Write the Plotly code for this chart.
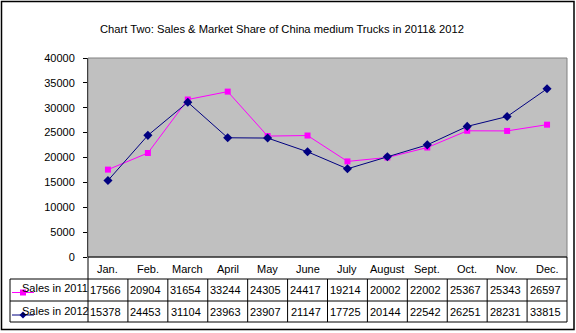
import plotly.graph_objects as go

months = ["Jan.", "Feb.", "March", "April", "May", "June", "July", "August", "Sept.", "Oct.", "Nov.", "Dec."]
sales_2011 = [17566, 20904, 31654, 33244, 24305, 24417, 19214, 20002, 22002, 25367, 25343, 26597]
sales_2012 = [15378, 24453, 31104, 23963, 23907, 21147, 17725, 20144, 22542, 26251, 28231, 33815]
series_names = ["Sales in 2011", "Sales in 2012"]
y_ticks = [0, 5000, 10000, 15000, 20000, 25000, 30000, 35000, 40000]
title = "Chart Two: Sales & Market Share of China medium Trucks in 2011& 2012"

W, H = 576, 333
PL, PR, PT, PB = 88, 567, 58, 257  # plot area in pixels

def px(x):
    return (x - PL) / (PR - PL)

def py(y):
    return (PB - y) / (PB - PT)

FONT = "Liberation Sans, Arial, sans-serif"
C11 = "#FF00FF"
C12 = "#000080"

fig = go.Figure()
fig.add_trace(go.Scatter(x=months, y=sales_2011, mode="lines+markers", name=series_names[0],
                         line=dict(color=C11, width=1), marker=dict(symbol="square", size=6, color=C11)))
fig.add_trace(go.Scatter(x=months, y=sales_2012, mode="lines+markers", name=series_names[1],
                         line=dict(color=C12, width=1), marker=dict(symbol="diamond", size=7, color=C12)))

shapes = []
line = dict(color="black", width=1)
# outer border
shapes.append(dict(type="rect", xref="paper", yref="paper", x0=px(1.5), x1=px(574), y0=py(1.5), y1=py(329.5),
                   line=dict(color="black", width=1.5), layer="below"))
# plot area border
shapes.append(dict(type="rect", xref="paper", yref="paper", x0=0, x1=1, y0=0, y1=1,
                   line=dict(color="#808080", width=1), layer="above"))
shapes.append(dict(type="line", xref="paper", yref="paper", x0=0, x1=1, y0=0, y1=0, line=line))
# table lines
rows = [279, 301, 322]
for r in rows:
    shapes.append(dict(type="line", xref="paper", yref="paper", x0=px(10), x1=1, y0=py(r), y1=py(r), line=line))
shapes.append(dict(type="line", xref="paper", yref="paper", x0=px(10), x1=px(10), y0=py(279), y1=py(322), line=line))
shapes.append(dict(type="line", xref="paper", yref="paper", x0=0, x1=0, y0=0, y1=py(322), line=line))
shapes.append(dict(type="line", xref="paper", yref="paper", x0=1, x1=1, y0=0, y1=py(322), line=line))
colw = (PR - PL) / len(months)
for i in range(1, len(months)):
    xx = px(PL + colw * i)
    shapes.append(dict(type="line", xref="paper", yref="paper", x0=xx, x1=xx, y0=py(279), y1=py(322), line=line))

annotations = []
annotations.append(dict(text=title, xref="paper", yref="paper", x=px(282), y=py(29), showarrow=False,
                        font=dict(family=FONT, size=11.2, color="black"),
                        xanchor="center", yanchor="middle"))
tf = dict(family=FONT, size=11, color="black")
for i, m in enumerate(months):
    annotations.append(dict(text=m, xref="x", yref="paper", x=m, y=py(268.5), showarrow=False, font=tf,
                            xanchor="center", yanchor="middle"))
    annotations.append(dict(text=str(sales_2011[i]), xref="x", yref="paper", x=m, y=py(290), showarrow=False,
                            font=tf, xanchor="center", yanchor="middle", xshift=-2))
    annotations.append(dict(text=str(sales_2012[i]), xref="x", yref="paper", x=m, y=py(311.5), showarrow=False,
                            font=tf, xanchor="center", yanchor="middle", xshift=-2))
annotations.append(dict(text=series_names[0], xref="paper", yref="paper", x=px(20), y=py(287.5), showarrow=False,
                        font=tf, xanchor="left", yanchor="middle"))
annotations.append(dict(text=series_names[1], xref="paper", yref="paper", x=px(20), y=py(310.5), showarrow=False,
                        font=tf, xanchor="left", yanchor="middle"))

# legend keys in table
shapes.append(dict(type="line", xref="paper", yref="paper", x0=px(12), x1=px(34), y0=py(292.5), y1=py(292.5),
                   line=dict(color=C11, width=1)))
shapes.append(dict(type="rect", xref="paper", yref="paper", x0=px(20), x1=px(26), y0=py(289.5), y1=py(295.5),
                   line=dict(color=C11, width=0), fillcolor=C11))
shapes.append(dict(type="line", xref="paper", yref="paper", x0=px(12), x1=px(34), y0=py(315), y1=py(315),
                   line=dict(color=C12, width=1)))
shapes.append(dict(type="path", xref="paper", yref="paper",
                   path=f"M {px(23)} {py(311.5)} L {px(26.5)} {py(315)} L {px(23)} {py(318.5)} L {px(19.5)} {py(315)} Z",
                   line=dict(color=C12, width=0), fillcolor=C12))

fig.update_layout(
    width=W, height=H,
    margin=dict(l=PL, r=W - PR, t=PT, b=H - PB, pad=0),
    paper_bgcolor="white", plot_bgcolor="#C0C0C0",
    showlegend=False,
    shapes=shapes, annotations=annotations,
    xaxis=dict(type="category", range=[-0.5, len(months) - 0.5], showticklabels=False, ticks="",
               showgrid=False, zeroline=False, showline=False, fixedrange=True),
    yaxis=dict(range=[0, 40000], tickvals=y_ticks, ticktext=[str(v) for v in y_ticks], ticks="outside",
               ticklen=4, tickcolor="black", showgrid=False, zeroline=False, showline=True, linecolor="black",
               tickfont=dict(family=FONT, size=11, color="black"), ticklabelstandoff=6),
)

fig.write_html("out.html")
